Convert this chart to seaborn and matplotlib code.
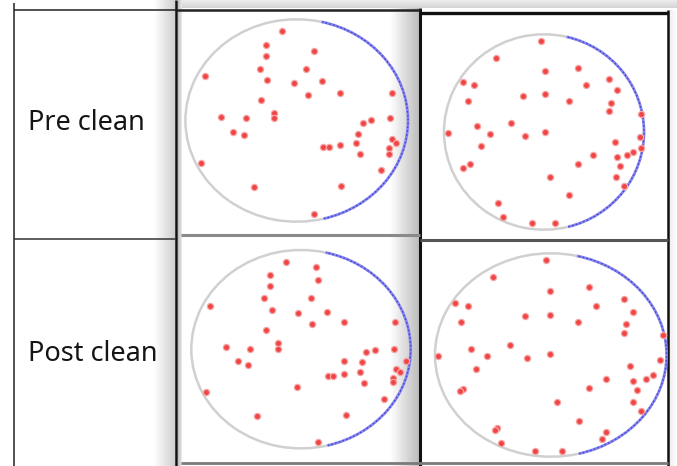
import numpy as np
import pandas as pd
import seaborn as sns
import matplotlib.pyplot as plt
from matplotlib.patches import Arc

# defect positions in wafer coordinates (mm from centre)
pre_a_x = [-20, -42, -42, 23, -50, 12, -40, -4, 34, -123, 59, 15, 128, -48, -31, -31, -102, -69, 126,
           89, 100, -86, -71, 83, 128, 134, 125, 125, 36, 44, 59, 80, 85, -129, 113, -57, 60, 23]
pre_a_y = [132, 112, 96, 103, 76, 76, 60, 55, 58, 66, 41, 38, 41, 30, 11, 3, 5, 3, 3,
           -3, 0, -17, -22, -20, -28, -33, -41, -49, -39, -39, -36, -34, -50, -63, -74, -99, -97, -138]

pre_b_x = [-4, -72, 2, 51, -122, -105, 63, 98, 109, -114, -32, 2, 38, 100, 98, 146, -100, -50, -144,
           -81, -29, 2, 144, -94, 107, 145, 73, 109, 125, 134, 51, 114, -111, -121, 9, 108, 120, 38,
           -69, -62, -18, 17]
pre_b_y = [139, 113, 94, 99, 76, 72, 72, 81, 65, 48, 55, 58, 48, 45, 33, 28, 9, 14, -2,
           -3, -6, 0, -8, -22, -16, -24, -35, -38, -35, -30, -49, -52, -49, -56, -69, -69, -83, -96,
           -109, -130, -140, -140]

post_a_x = [-21, 20, -43, 23, -43, -51, 13, -125, -39, -4, 35, 15, 59, 129, -48, -31, -31, -102, -70,
            89, 101, 127, -86, -72, 59, 84, 143, 80, 59, 37, 44, 130, 135, 126, 126, 86, -6, -130,
            114, -60, 62, 23]
post_a_y = [132, 124, 112, 105, 96, 77, 77, 66, 59, 54, 57, 38, 41, 41, 29, 9, 1, 4, 1,
            -4, -1, 1, -18, -24, -18, -20, -18, -34, -38, -40, -40, -30, -34, -44, -50, -51, -57, -64,
            -76, -101, -99, -140]

post_b_x = [-6, -75, -1, 49, -124, -107, 59, 95, 106, -116, -33, -1, 35, 98, 95, 145, -103, -53, -146,
            -83, -31, -1, 142, -97, 103, 106, 71, 49, 112, 123, 132, -114, -117, 106, 8, 117, 36, -70,
            -72, 71, 66, -64, -20, 15]
post_b_y = [140, 115, 95, 101, 76, 73, 73, 82, 64, 48, 57, 59, 48, 45, 33, 29, 9, 15, -2,
            -2, -5, 1, -8, -21, -16, -38, -35, -49, -52, -35, -30, -50, -53, -69, -69, -83, -97, -108,
            -111, -113, -124, -130, -141, -141]

row_labels = ["Pre clean", "Post clean"]

# screen placement of each wafer map: centre and radii in pixels
panels = [
    (pre_a_x, pre_a_y, 296.7, 120.5, 111.3, 101.2),
    (pre_b_x, pre_b_y, 544.0, 132.0, 100.0, 97.7),
    (post_a_x, post_a_y, 301.0, 349.2, 109.7, 99.2),
    (post_b_x, post_b_y, 550.8, 355.0, 115.8, 101.7),
]

W, H = 677, 466
fig = plt.figure(figsize=(W / 100, H / 100), dpi=100)
plt.rcParams['font.family'] = ['Noto Sans', 'DejaVu Sans']

bg = fig.add_axes([0, 0, 1, 1])
bg.set_axis_off()

# screenshot shading
def shade(x0, x1, y0, y1, c0, c1, horizontal=True):
    g = np.linspace(c0, c1, 64)
    g = g[None, :] if horizontal else g[:, None]
    bg.imshow(g, cmap='gray', vmin=0, vmax=1, extent=[x0, x1, y1, y0],
              aspect='auto', interpolation='bilinear')

shade(176, 677, 0, 8, 0.93, 0.83, horizontal=False)
shade(154, 176, 0, 466, 1.0, 0.8)
shade(178, 182, 0, 466, 0.74, 0.92)
shade(390, 419, 8, 466, 1.0, 0.74)
shade(668, 677, 10, 466, 0.92, 1.0)

bg.set_xlim(0, W)
bg.set_ylim(H, 0)

# table grid
bg.vlines(14, 3, H, color='#222222', lw=1.1)
bg.vlines(176, 0, H, color='#111111', lw=1.8)
bg.vlines(420, 8, H, color='#111111', lw=2.2)
bg.vlines(668, 10, H, color='#111111', lw=1.8)
bg.hlines(10, 14, 176, color='#222222', lw=1.1)
bg.hlines(10, 176, 420, color='#222222', lw=1.8)
bg.hlines(13, 420, 668, color='#111111', lw=2.4)
bg.hlines(239, 14, 176, color='#333333', lw=1.1)
bg.hlines(235, 181, 420, color='#8a8a8a', lw=2.2)
bg.hlines(240, 420, 668, color='#555555', lw=2.2)
bg.hlines(463, 181, 668, color='#7a7a7a', lw=2.0)

bg.text(28, 123, row_labels[0], fontsize=19.5, ha='left', va='center', color='#151515')
bg.text(28, 354, row_labels[1], fontsize=19.5, ha='left', va='center', color='#151515')

lim = 165
for xs, ys, cx, cy, rx, ry in panels:
    w = 2 * rx * lim / 150
    h = 2 * ry * lim / 150
    ax = fig.add_axes([(cx - w / 2) / W, 1 - (cy + h / 2) / H, w / W, h / H])
    ax.set_facecolor('none')
    ax.set_xlim(-lim, lim)
    ax.set_ylim(-lim, lim)
    ax.set_axis_off()
    ax.add_patch(Arc((0, 0), 300, 300, theta1=77, theta2=284, color='#d0d0d0', lw=1.8))
    ax.add_patch(Arc((0, 0), 300, 300, theta1=-76, theta2=77, color='#8686ec', lw=2.0))
    ax.add_patch(Arc((0, 0), 300, 300, theta1=-76, theta2=77, color='#4646d8', lw=1.0,
                     linestyle=(0, (1.2, 1.6))))
    df = pd.DataFrame({'x': xs, 'y': ys})
    sns.scatterplot(data=df, x='x', y='y', ax=ax, color='#f04545', s=20,
                    edgecolor='#f7a5a5', linewidth=0.9, legend=False)

fig.savefig('out.png', dpi=100)
